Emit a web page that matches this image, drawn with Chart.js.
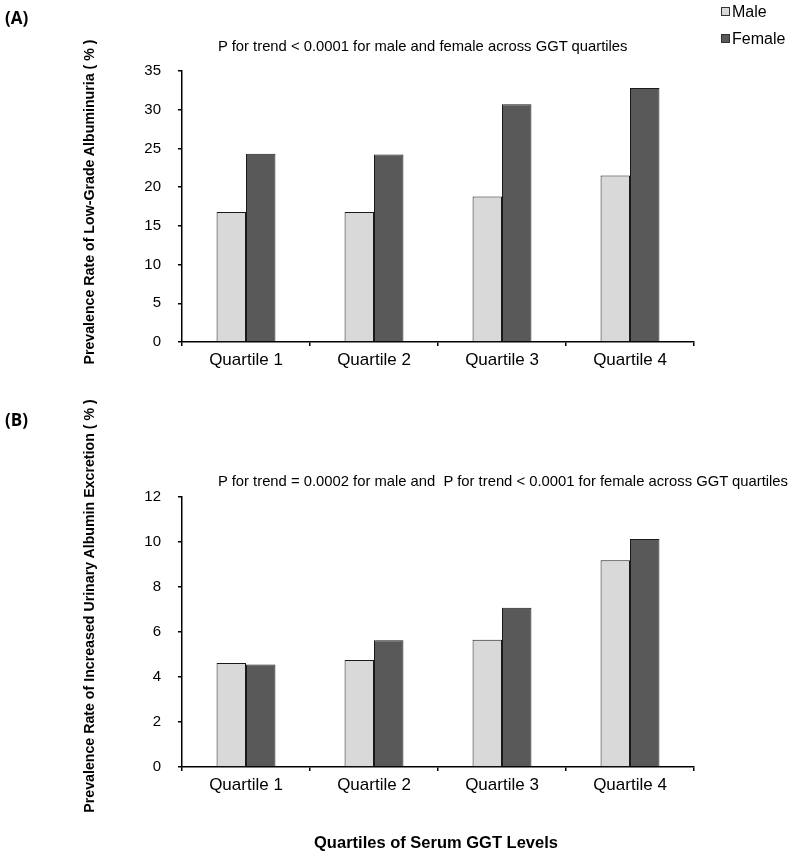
<!DOCTYPE html>
<html>
<head>
<meta charset="utf-8">
<script src="https://cdn.jsdelivr.net/npm/chart.js@4"></script>
<style>
  body { margin: 0; background: #fff; }
  #wrap { position: relative; width: 797px; height: 863px; font-family: "Liberation Sans", Arial, sans-serif; color: #000; }
  canvas { position: absolute; left: 0; }
  .txt { position: absolute; white-space: nowrap; line-height: 1; }
  .lab { position: absolute; font-weight: bold; font-family: "Open Sans", "Liberation Sans", sans-serif; font-size: 17px; line-height: 1; }
  .ytitle { position: absolute; font-weight: bold; font-size: 14.2px; white-space: nowrap; line-height: 1; transform: translate(-50%, -50%) rotate(-90deg); }
  .sq { position: absolute; left: -11px; top: 3px; width: 7px; height: 7px; border: 1px solid #333; }
</style>
</head>
<body>
<div id="wrap">
  <canvas id="chartA" width="797" height="400" style="top:0"></canvas>
  <canvas id="chartB" width="797" height="463" style="top:400px"></canvas>

  <div class="lab" style="left:5px; top:9px">(A)</div>
  <div class="lab" style="left:5px; top:411px">(B)</div>

  <div class="txt" style="left:732px; top:4px; font-size:16px"><span class="sq" style="background:#d9d9d9"></span>Male</div>
  <div class="txt" style="left:732px; top:31px; font-size:16px"><span class="sq" style="background:#595959"></span>Female</div>

  <div class="txt" style="left:218px; top:39px; font-size:14.8px">P for trend &lt; 0.0001 for male and female across GGT quartiles</div>
  <div class="txt" style="left:218px; top:474px; font-size:14.8px">P for trend = 0.0002 for male and&nbsp; P for trend &lt; 0.0001 for female across GGT quartiles</div>

  <div class="ytitle" style="left:89px; top:202px">Prevalence Rate of Low-Grade Albuminuria ( % )</div>
  <div class="ytitle" style="left:89px; top:606px">Prevalence Rate of Increased Urinary Albumin Excretion ( % )</div>

  <div class="txt" style="left:436px; top:834px; transform:translateX(-50%); font-weight:bold; font-size:16.5px">Quartiles of Serum GGT Levels</div>
</div>

<script>
const quartiles = ['Quartile 1', 'Quartile 2', 'Quartile 3', 'Quartile 4'];

// (A) low-grade albuminuria, %
const albMale = [16.8, 16.8, 18.8, 21.5];
const albFemale = [24.3, 24.2, 30.7, 32.8];

// (B) increased urinary albumin excretion, %
const uaeMale = [4.62, 4.76, 5.66, 9.19];
const uaeFemale = [4.56, 5.63, 7.08, 10.13];

const xFont = { family: "'Liberation Sans', Arial, sans-serif", size: 17 };
const yFont = { family: "'Liberation Sans', Arial, sans-serif", size: 15 };

function makeChart(id, male, female, yMax, step, top, xHeight) {
  const ctx = document.getElementById(id).getContext('2d');
  return new Chart(ctx, {
    type: 'bar',
    data: {
      labels: quartiles,
      datasets: [
        { label: 'Male', data: male, backgroundColor: '#d9d9d9', borderColor: '#1a1a1a', borderWidth: 1 },
        { label: 'Female', data: female, backgroundColor: '#595959', borderColor: '#1a1a1a', borderWidth: 1 }
      ]
    },
    options: {
      responsive: false,
      animation: false,
      categoryPercentage: 0.46,
      barPercentage: 1.0,
      layout: { padding: { left: 0, right: 103, top: top, bottom: 0 } },
      plugins: { legend: { display: false }, tooltip: { enabled: false } },
      scales: {
        x: {
          grid: { offset: true, drawOnChartArea: false, drawTicks: true, tickLength: 4, color: '#000', lineWidth: 1.5 },
          border: { color: '#000', width: 1.5 },
          ticks: { color: '#000', font: xFont, padding: 4 },
          afterFit: (s) => { s.height = xHeight; }
        },
        y: {
          min: 0,
          max: yMax,
          ticks: { stepSize: step, color: '#000', font: yFont, padding: 17 },
          grid: { drawOnChartArea: false, drawTicks: true, tickLength: 4, color: '#000', lineWidth: 1.5 },
          border: { color: '#000', width: 1.5 },
          afterFit: (s) => { s.width = 182; }
        }
      }
    }
  });
}

makeChart('chartA', albMale, albFemale, 35, 5, 71, 58);
makeChart('chartB', uaeMale, uaeFemale, 12, 2, 97, 96);
</script>
</body>
</html>
